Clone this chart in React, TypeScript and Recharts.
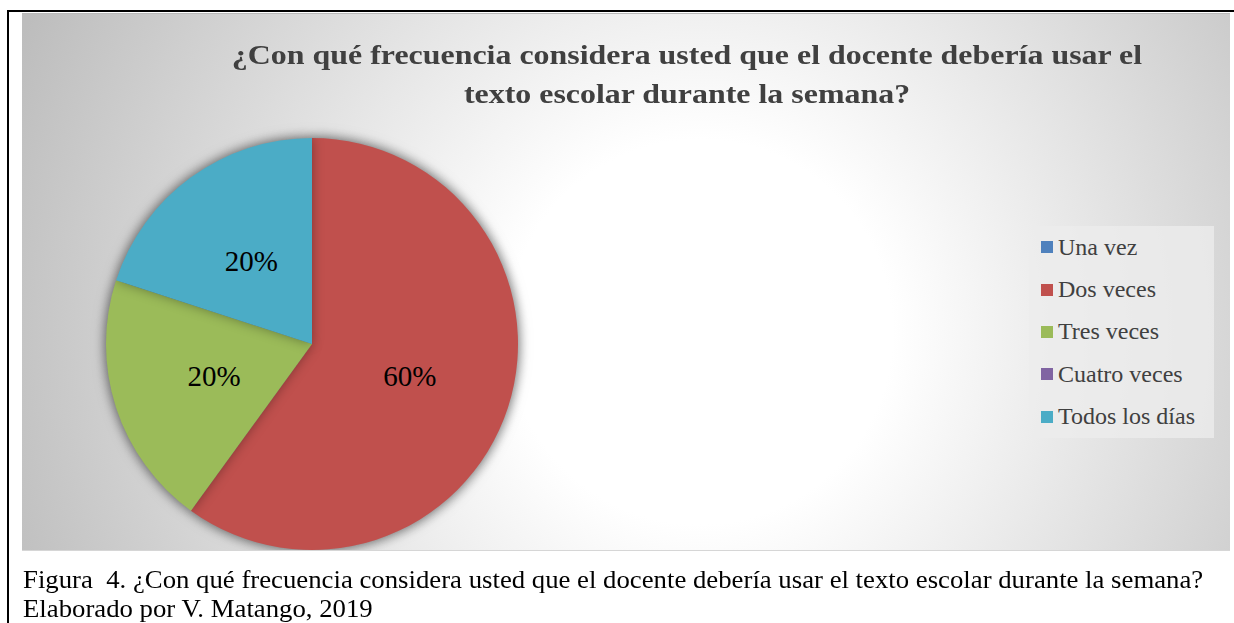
import React from "react";
import { PieChart, Pie, Cell, Legend } from "recharts";

const categories = ["Una vez", "Dos veces", "Tres veces", "Cuatro veces", "Todos los días"];
const values = [0, 60, 20, 0, 20];
const colors = ["#4F81BD", "#C0504D", "#9BBB59", "#8064A2", "#4BACC6"];

const titleLines = [
  "¿Con qué frecuencia considera usted que el docente debería usar el",
  "texto escolar durante la semana?",
];
const captionLines = [
  "Figura  4. ¿Con qué frecuencia considera usted que el docente debería usar el texto escolar durante la semana?",
  "Elaborado por V. Matango, 2019",
];

const data = categories.map((name, i) => ({ name, value: values[i] }));

const SERIF = '"Liberation Serif", "Times New Roman", serif';
const RADIAN = Math.PI / 180;

function renderLabel(props: any) {
  const { cx, cy, midAngle, outerRadius, percent, value } = props;
  if (!value) return null;
  const r = outerRadius * 0.5;
  const x = cx + r * Math.cos(-midAngle * RADIAN);
  const y = cy + r * Math.sin(-midAngle * RADIAN);
  return (
    <text
      x={x}
      y={y}
      fill="#000"
      textAnchor="middle"
      dominantBaseline="central"
      fontFamily={SERIF}
      fontSize={29}
    >
      {`${Math.round(percent * 100)}%`}
    </text>
  );
}

function renderLegend() {
  return (
    <div
      style={{
        width: 185,
        height: 212,
        background: "rgba(236,236,236,0.8)",
        fontFamily: SERIF,
        fontSize: 24,
        color: "#404040",
      }}
    >
      {categories.map((c, i) => (
        <div key={c} style={{ height: 42.4, display: "flex", alignItems: "center" }}>
          <span
            style={{
              display: "inline-block",
              width: 12,
              height: 12,
              marginLeft: 12,
              marginRight: 5,
              background: colors[i],
            }}
          />
          <span style={{ whiteSpace: "nowrap" }}>{c}</span>
        </div>
      ))}
    </div>
  );
}

export default function App() {
  return (
    <div
      style={{
        position: "fixed",
        left: 0,
        top: 0,
        width: 1234,
        height: 623,
        background: "#fff",
        overflow: "hidden",
      }}
    >
      <style>{`.pie-shadow { filter: drop-shadow(0 0 6px rgba(0,0,0,0.35)); }`}</style>
      {/* outer frame */}
      <div
        style={{
          position: "absolute",
          left: 7,
          top: 10,
          width: 1260,
          height: 660,
          borderLeft: "2px solid #000",
          borderTop: "2px solid #000",
        }}
      />
      {/* chart area */}
      <div
        style={{
          position: "absolute",
          left: 22,
          top: 13,
          width: 1208,
          height: 536,
          borderTop: "1px solid #b9b9b9",
          borderBottom: "1px solid #d6d6d6",
          background:
            "radial-gradient(circle 740px at 678px 318px, #ffffff 0%, #ffffff 26%, #bdbdbd 100%)",
        }}
      >
        <div
          style={{
            position: "absolute",
            left: 165,
            width: 1000,
            top: 21,
            textAlign: "center",
            fontFamily: SERIF,
            fontWeight: "bold",
            fontSize: 28,
            lineHeight: "39px",
            color: "#404040",
            transform: "scaleX(1.14)",
            transformOrigin: "500px 0",
            whiteSpace: "nowrap",
          }}
        >
          {titleLines.map((l) => (
            <div key={l}>{l}</div>
          ))}
        </div>
        <PieChart
          width={1208}
          height={536}
          margin={{ top: 0, right: 0, bottom: 0, left: 0 }}
          style={{ position: "absolute", left: 0, top: 0 }}
        >
          <Pie
            data={data}
            dataKey="value"
            nameKey="name"
            cx={290}
            cy={330}
            outerRadius={206}
            startAngle={90}
            endAngle={-270}
            stroke="none"
            className="pie-shadow"
            label={false}
            isAnimationActive={false}
          >
            {data.map((d, i) => (
              <Cell key={d.name} fill={colors[i]} stroke="none" />
            ))}
          </Pie>
          <Pie
            data={data}
            dataKey="value"
            nameKey="name"
            cx={290}
            cy={330}
            outerRadius={206}
            startAngle={90}
            endAngle={-270}
            fill="transparent"
            stroke="none"
            legendType="none"
            label={renderLabel}
            labelLine={false}
            isAnimationActive={false}
          />
          <Legend
            content={renderLegend}
            wrapperStyle={{ position: "absolute", left: 1007, top: 212, width: 185, height: 212 }}
          />
        </PieChart>
      </div>
      {/* caption */}
      <div
        style={{
          position: "absolute",
          left: 23,
          top: 565,
          fontFamily: SERIF,
          fontSize: 25,
          lineHeight: "29px",
          color: "#000",
          whiteSpace: "pre",
          transform: "scaleX(1.07)",
          transformOrigin: "0 0",
        }}
      >
        {captionLines.map((l) => (
          <div key={l}>{l}</div>
        ))}
      </div>
    </div>
  );
}
